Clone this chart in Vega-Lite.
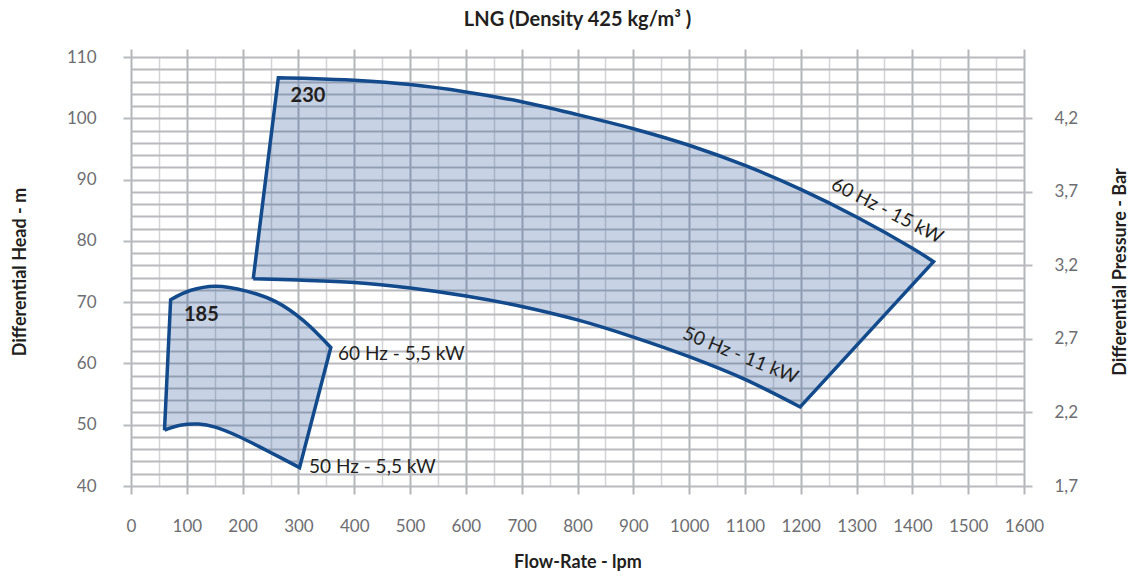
{
  "$schema": "https://vega.github.io/schema/vega-lite/v6.json",
  "width": 893,
  "height": 429,
  "autosize": {"type": "none"},
  "padding": {"left": 131, "top": 57, "right": 111, "bottom": 91},
  "background": "white",
  "title": {"text": "LNG (Density 425 kg/m³ )", "font": "Lato", "fontSize": 20, "fontWeight": "bold", "color": "#231f20", "anchor": "middle", "offset": 18},
  "config": {"view": {"stroke": null}},
  "datasets": {
    "curves": [
      {"pump": "230", "ord": 1, "flow": 219, "head": 73.8},
      {"pump": "230", "ord": 2, "flow": 219, "head": 73.8},
      {"pump": "230", "ord": 3, "flow": 264, "head": 106.6},
      {"pump": "230", "ord": 4, "flow": 264, "head": 106.6},
      {"pump": "230", "ord": 5, "flow": 320, "head": 106.5},
      {"pump": "230", "ord": 6, "flow": 400, "head": 106.2},
      {"pump": "230", "ord": 7, "flow": 500, "head": 105.5},
      {"pump": "230", "ord": 8, "flow": 600, "head": 104.3},
      {"pump": "230", "ord": 9, "flow": 700, "head": 102.7},
      {"pump": "230", "ord": 10, "flow": 800, "head": 100.6},
      {"pump": "230", "ord": 11, "flow": 900, "head": 98.3},
      {"pump": "230", "ord": 12, "flow": 1000, "head": 95.6},
      {"pump": "230", "ord": 13, "flow": 1100, "head": 92.3},
      {"pump": "230", "ord": 14, "flow": 1200, "head": 88.4},
      {"pump": "230", "ord": 15, "flow": 1300, "head": 83.9},
      {"pump": "230", "ord": 16, "flow": 1400, "head": 78.8},
      {"pump": "230", "ord": 17, "flow": 1438, "head": 76.6},
      {"pump": "230", "ord": 18, "flow": 1438, "head": 76.6},
      {"pump": "230", "ord": 19, "flow": 1199, "head": 52.9},
      {"pump": "230", "ord": 20, "flow": 1199, "head": 52.9},
      {"pump": "230", "ord": 21, "flow": 1100, "head": 57.4},
      {"pump": "230", "ord": 22, "flow": 1000, "head": 61.1},
      {"pump": "230", "ord": 23, "flow": 900, "head": 64.3},
      {"pump": "230", "ord": 24, "flow": 800, "head": 67.1},
      {"pump": "230", "ord": 25, "flow": 700, "head": 69.3},
      {"pump": "230", "ord": 26, "flow": 600, "head": 71.0},
      {"pump": "230", "ord": 27, "flow": 500, "head": 72.3},
      {"pump": "230", "ord": 28, "flow": 400, "head": 73.2},
      {"pump": "230", "ord": 29, "flow": 300, "head": 73.6},
      {"pump": "230", "ord": 30, "flow": 219, "head": 73.8},
      {"pump": "230", "ord": 31, "flow": 219, "head": 73.8},
      {"pump": "185", "ord": 1, "flow": 60, "head": 49.1},
      {"pump": "185", "ord": 2, "flow": 60, "head": 49.1},
      {"pump": "185", "ord": 3, "flow": 71, "head": 70.4},
      {"pump": "185", "ord": 4, "flow": 71, "head": 70.4},
      {"pump": "185", "ord": 5, "flow": 106, "head": 71.9},
      {"pump": "185", "ord": 6, "flow": 151, "head": 72.6},
      {"pump": "185", "ord": 7, "flow": 207, "head": 71.8},
      {"pump": "185", "ord": 8, "flow": 261, "head": 70.0},
      {"pump": "185", "ord": 9, "flow": 309, "head": 67.0},
      {"pump": "185", "ord": 10, "flow": 358, "head": 62.6},
      {"pump": "185", "ord": 11, "flow": 358, "head": 62.6},
      {"pump": "185", "ord": 12, "flow": 302, "head": 43.0},
      {"pump": "185", "ord": 13, "flow": 302, "head": 43.0},
      {"pump": "185", "ord": 14, "flow": 243, "head": 45.8},
      {"pump": "185", "ord": 15, "flow": 195, "head": 48.0},
      {"pump": "185", "ord": 16, "flow": 151, "head": 49.6},
      {"pump": "185", "ord": 17, "flow": 121, "head": 50.1},
      {"pump": "185", "ord": 18, "flow": 88, "head": 49.9},
      {"pump": "185", "ord": 19, "flow": 60, "head": 49.1},
      {"pump": "185", "ord": 20, "flow": 60, "head": 49.1}
    ],
    "models": [
      {"label": "230", "flow": 286, "head": 103.7},
      {"label": "185", "flow": 95, "head": 67.9}
    ],
    "ratings": [
      {"label": "60 Hz - 5,5 kW", "flow": 371, "head": 61.6},
      {"label": "50 Hz - 5,5 kW", "flow": 319, "head": 43.1}
    ],
    "rating15": [{"label": "60 Hz - 15 kW", "flow": 1355, "head": 84.9}],
    "rating11": [{"label": "50 Hz - 11 kW", "flow": 1092, "head": 61.3}]
  },
  "layer": [
    {
      "data": {"name": "curves"},
      "mark": {"type": "line", "stroke": "#124a8c", "strokeWidth": 3.5, "strokeJoin": "miter", "fill": "#1e5096", "fillOpacity": 0.25, "interpolate": "catmull-rom"},
      "encoding": {
        "x": {"field": "flow", "type": "quantitative",
          "scale": {"domain": [0, 1600], "nice": false, "zero": false},
          "axis": {"orient": "bottom",
            "values": [0,50,100,150,200,250,300,350,400,450,500,550,600,650,700,750,800,850,900,950,1000,1050,1100,1150,1200,1250,1300,1350,1400,1450,1500,1550,1600],
            "format": "d",
            "domain": false, "grid": true,
            "gridColor": {"condition": {"test": "datum.value % 100 === 0", "value": "#b4b5b9"}, "value": "#d3d4d6"},
            "gridWidth": {"condition": {"test": "datum.value % 100 === 0", "value": 2}, "value": 1.5},
            "gridOpacity": 1,
            "tickSize": 8, "tickWidth": 2, "tickColor": "#b4b5b9",
            "tickOpacity": {"condition": {"test": "datum.value % 100 === 0", "value": 1}, "value": 0},
            "labelExpr": "datum.value % 100 === 0 ? datum.label : ''",
            "labelOverlap": false, "labelFlush": false,
            "labelFont": "Lato", "labelFontSize": 17, "labelColor": "#6d6e71", "labelPadding": 24,
            "title": "Flow-Rate - lpm", "titleFont": "Lato", "titleFontSize": 18, "titleFontWeight": "bold", "titleColor": "#231f20", "titlePadding": 19}},
        "y": {"field": "head", "type": "quantitative",
          "scale": {"domain": [40, 110], "nice": false, "zero": false},
          "axis": {"orient": "left",
            "values": [40,42,44,46,48,50,52,54,56,58,60,62,64,66,68,70,72,74,76,78,80,82,84,86,88,90,92,94,96,98,100,102,104,106,108,110],
            "domain": false, "grid": true, "gridColor": "#b9babd", "gridWidth": 2, "gridOpacity": 1,
            "tickSize": 8, "tickWidth": 2, "tickColor": "#b9babd",
            "tickOpacity": {"condition": {"test": "datum.value % 10 === 0", "value": 1}, "value": 0},
            "labelExpr": "datum.value % 10 === 0 ? datum.label : ''",
            "labelOverlap": false, "labelFlush": false,
            "labelFont": "Lato", "labelFontSize": 17, "labelColor": "#6d6e71", "labelPadding": 27,
            "title": "Differential Head - m", "titleFont": "Lato", "titleFontSize": 18, "titleFontWeight": "bold", "titleColor": "#231f20", "titlePadding": 37}},
        "detail": {"field": "pump"},
        "order": {"field": "ord", "type": "quantitative"}
      }
    },
    {
      "data": {"name": "models"},
      "mark": {"type": "text", "font": "Lato", "fontSize": 20, "fontWeight": "bold", "color": "#231f20", "align": "left", "baseline": "middle"},
      "encoding": {
        "x": {"field": "flow", "type": "quantitative",
          "axis": {"orient": "top", "values": [0,100,200,300,400,500,600,700,800,900,1000,1100,1200,1300,1400,1500,1600],
            "domain": false, "grid": false, "labels": false, "tickSize": 8, "tickWidth": 2, "tickColor": "#b4b5b9", "title": null}},
        "y": {"field": "head", "type": "quantitative",
          "axis": {"orient": "right", "values": [40,52,64,76,88,100],
            "domain": false, "grid": false, "tickSize": 8, "tickWidth": 2, "tickColor": "#b9babd",
            "labelExpr": "replace(format((datum.value - 40) / 24 + 1.7, '.1f'), '.', ',')",
            "labelFont": "Lato", "labelFontSize": 17, "labelColor": "#6d6e71", "labelPadding": 22,
            "title": "Differential Pressure - Bar", "titleAngle": -90, "titleBaseline": "bottom", "titleFont": "Lato", "titleFontSize": 18, "titleFontWeight": "bold", "titleColor": "#231f20", "titlePadding": 52}},
        "text": {"field": "label"}
      }
    },
    {
      "data": {"name": "ratings"},
      "mark": {"type": "text", "font": "Lato", "fontSize": 19, "color": "#231f20", "align": "left", "baseline": "middle"},
      "encoding": {
        "x": {"field": "flow", "type": "quantitative", "axis": null},
        "y": {"field": "head", "type": "quantitative", "axis": null},
        "text": {"field": "label"}
      }
    },
    {
      "data": {"name": "rating15"},
      "mark": {"type": "text", "font": "Lato", "fontSize": 19, "color": "#231f20", "align": "center", "baseline": "middle", "angle": 27},
      "encoding": {
        "x": {"field": "flow", "type": "quantitative", "axis": null},
        "y": {"field": "head", "type": "quantitative", "axis": null},
        "text": {"field": "label"}
      }
    },
    {
      "data": {"name": "rating11"},
      "mark": {"type": "text", "font": "Lato", "fontSize": 19, "color": "#231f20", "align": "center", "baseline": "middle", "angle": 22},
      "encoding": {
        "x": {"field": "flow", "type": "quantitative", "axis": null},
        "y": {"field": "head", "type": "quantitative", "axis": null},
        "text": {"field": "label"}
      }
    }
  ],
  "resolve": {"axis": {"x": "independent", "y": "independent"}}
}
